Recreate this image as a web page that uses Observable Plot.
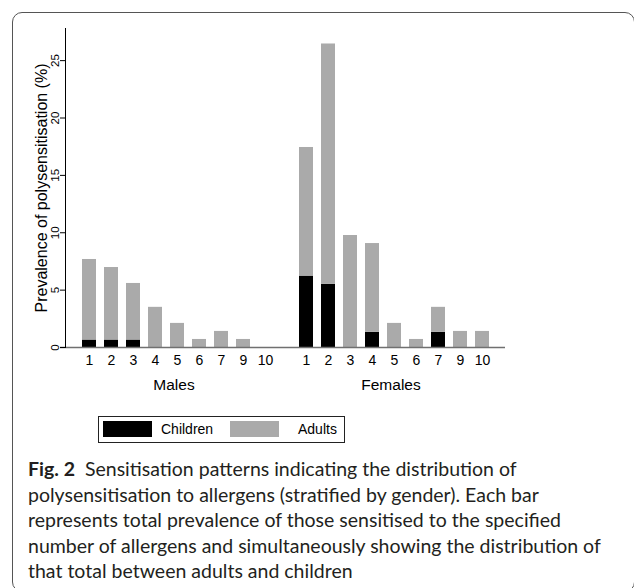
<!DOCTYPE html>
<html>
<head>
<meta charset="utf-8">
<script src="https://cdn.jsdelivr.net/npm/d3@7"></script>
<script src="https://cdn.jsdelivr.net/npm/@observablehq/plot@0.6"></script>
<style>
  html, body { margin: 0; padding: 0; background: #fff; }
  #wrap { position: relative; width: 634px; height: 588px; overflow: hidden; font-family: "Liberation Sans", Arial, sans-serif; }
  #box { position: absolute; left: 12px; top: 12px; width: 623px; height: 580px; box-sizing: border-box; border: 1.3px solid #555; border-radius: 10px; }
  #chart { position: absolute; left: 0; top: 0; }
  #legend { position: absolute; left: 98px; top: 416px; width: 247px; height: 27px; box-sizing: border-box; border: 1px solid #222; font-size: 14px; }
  .sw { position: absolute; top: 4px; width: 49px; height: 16px; }
  .lt { position: absolute; top: 4px; line-height: 17px; color: #000; }
  #caption { position: absolute; left: 28px; top: 456px; font-family: Lato, "Open Sans", sans-serif; font-size: 19.5px; line-height: 25.5px; color: #231f20; white-space: nowrap; }
</style>
</head>
<body>
<div id="wrap">
  <div id="box"></div>
  <div id="chart"></div>
  <div id="legend"></div>
  <div id="caption"><b>Fig. 2</b>&nbsp; Sensitisation patterns indicating the distribution of<br>polysensitisation to allergens (stratified by gender). Each bar<br>represents total prevalence of those sensitised to the specified<br>number of allergens and simultaneously showing the distribution of<br>that total between adults and children</div>
</div>
<script>
const categories = ["1", "2", "3", "4", "5", "6", "7", "9", "10"];
const groups = ["Males", "Females"];
const series = ["Children", "Adults"];
const seriesColors = ["#000000", "#aaaaaa"];
const malesChildren = [0.65, 0.65, 0.65, 0, 0, 0, 0, 0, 0];
const malesAdults = [7.02, 6.32, 4.93, 3.5, 2.1, 0.7, 1.4, 0.7, 0];
const femalesChildren = [6.22, 5.5, 0, 1.32, 0, 0, 1.32, 0, 0];
const femalesAdults = [11.21, 20.95, 9.76, 7.74, 2.1, 0.7, 2.18, 1.4, 1.4];
const yTicks = [0, 5, 10, 15, 20, 25];
const yLabel = "Prevalence of polysensitisation (%)";

const valuesBy = {
  Males: {Children: malesChildren, Adults: malesAdults},
  Females: {Children: femalesChildren, Adults: femalesAdults}
};
const rows = [];
for (const g of groups) {
  categories.forEach((k, i) => {
    for (const s of series) {
      const v = valuesBy[g][s][i];
      if (v > 0) rows.push({group: g, k, series: s, value: v});
    }
  });
}

const chart = Plot.plot({
  width: 634,
  height: 400,
  marginLeft: 65,
  marginRight: 135,
  marginTop: 28,
  marginBottom: 53,
  style: {fontFamily: "'Liberation Sans', Arial, sans-serif", color: "#000", background: "transparent", overflow: "visible"},
  fx: {domain: groups, padding: 0, label: null},
  x: {domain: categories, paddingInner: 0.372, paddingOuter: 0.5516, align: 0.61, label: null},
  y: {domain: [0, 27.8], label: null},
  color: {domain: series, range: seriesColors},
  marks: [
    Plot.barY(rows, {fx: "group", x: "k", y: "value", fill: "series", order: series}),
    Plot.ruleY([{g: groups[0], v: 0}], {fx: "g", y: "v", stroke: "#707070", strokeWidth: 1.6, insetLeft: -5}),
    Plot.ruleY([{g: groups[1], v: 0}], {fx: "g", y: "v", stroke: "#707070", strokeWidth: 1.6, insetRight: -6}),
    Plot.frame({anchor: "left", facetAnchor: "left", stroke: "#000"}),
    Plot.axisY({ticks: yTicks, tickSize: 5, tickRotate: -90, tickPadding: 1.5, fontSize: 11.5, label: null}),
    Plot.text([yLabel], {frameAnchor: "left", textAnchor: "middle", rotate: -90, dx: -24, fontSize: 16, facetAnchor: "left", fill: "#000"}),
    Plot.axisX({tickSize: 0, tickPadding: 8, fontSize: 14, label: null}),
    Plot.axisFx({anchor: "bottom", tickSize: 0, tickPadding: 31, fontSize: 15.5, label: null})
  ]
});
document.getElementById("chart").appendChild(chart);

// legend from the same colour scale
const color = chart.scale("color");
const legend = document.getElementById("legend");
const swX = [4, 131];
const txtX = [62, 199];
series.forEach((s, i) => {
  const sw = document.createElement("div");
  sw.className = "sw";
  sw.style.left = swX[i] + "px";
  sw.style.background = color.apply(s);
  legend.appendChild(sw);
  const t = document.createElement("div");
  t.className = "lt";
  t.style.left = txtX[i] + "px";
  t.textContent = s;
  legend.appendChild(t);
});
</script>
</body>
</html>
